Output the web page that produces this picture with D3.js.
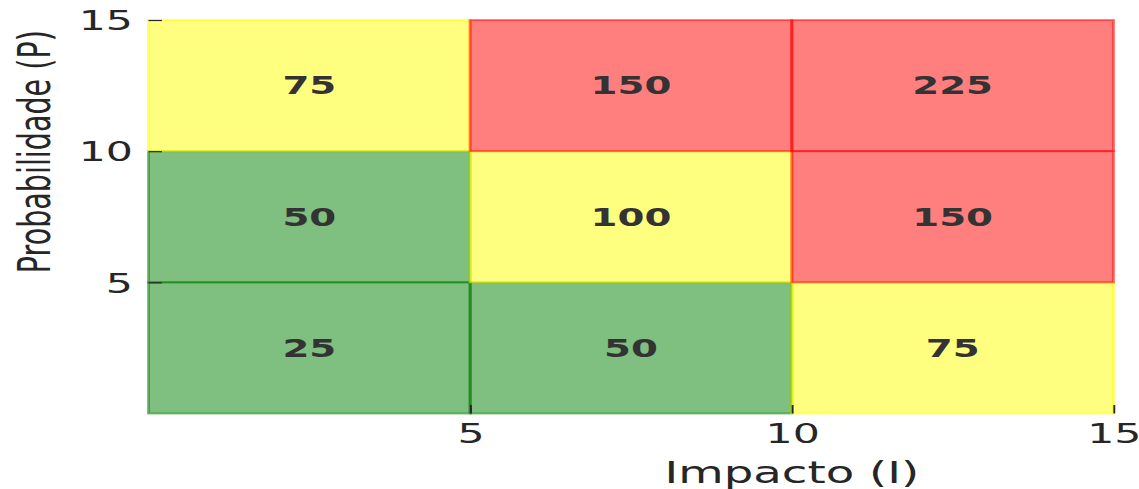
<!DOCTYPE html>
<html>
<head>
<meta charset="utf-8">
<script src="https://cdn.jsdelivr.net/npm/d3@7"></script>
<style>
  body { margin: 0; background: #fff; }
  svg { display: block; }
  text { font-family: "DejaVu Sans", sans-serif; }
</style>
</head>
<body>
<svg id="chart" width="1139" height="489"></svg>
<script>
// niveles de impacto (eje x) y probabilidad (eje y)
var impactLevels = [5, 10, 15];
var probLevels = [5, 10, 15];
// puntuacion de riesgo por celda, filas = probabilidad, columnas = impacto
var riskScores = [
  [25, 50, 75],
  [50, 100, 150],
  [75, 150, 225]
];
var tickValues = [5, 10, 15];
var zoneColors = { low: "green", mid: "yellow", high: "red" };

// the picture is stretched horizontally, so draw in logical units and scale
var stretch = 1.58;
var W = 1139 / stretch, H = 489;
var margin = { left: 148.5 / stretch, right: W - 1113.5 / stretch, top: 20, bottom: H - 413.5 };

var svg = d3.select("#chart");
var root = svg.append("g").attr("transform", "scale(" + stretch + ",1)");

var x = d3.scaleLinear().domain([0, 15]).range([margin.left, W - margin.right]);
var y = d3.scaleLinear().domain([0, 15]).range([H - margin.bottom, margin.top]);

function zone(v) {
  if (v <= 50) return zoneColors.low;
  if (v <= 100) return zoneColors.mid;
  return zoneColors.high;
}

// celdas, recorridas por columna como en el original
var cells = [];
impactLevels.forEach(function(imp, i) {
  probLevels.forEach(function(p, j) {
    cells.push({ imp: imp, p: p, v: riskScores[j][i] });
  });
});

root.selectAll("rect.cell")
  .data(cells)
  .enter().append("rect")
  .attr("class", "cell")
  .attr("x", function(d) { return x(d.imp - 5); })
  .attr("y", function(d) { return y(d.p); })
  .attr("width", function(d) { return x(d.imp) - x(d.imp - 5); })
  .attr("height", function(d) { return y(d.p - 5) - y(d.p); })
  .attr("fill", function(d) { return zone(d.v); })
  .attr("fill-opacity", 0.5)
  .attr("stroke", function(d) { return zone(d.v); })
  .attr("stroke-opacity", 0.5)
  .attr("stroke-width", 1.9);

root.selectAll("text.val")
  .data(cells)
  .enter().append("text")
  .attr("class", "val")
  .attr("x", function(d) { return x(d.imp - 2.5); })
  .attr("y", function(d) { return y(d.p - 2.5); })
  .attr("dy", "0.36em")
  .attr("text-anchor", "middle")
  .attr("font-size", 24.5)
  .attr("font-weight", "bold")
  .attr("fill", "#333333")
  .text(function(d) { return d.v; });

// ejes con ticks hacia dentro
var yAxis = root.append("g")
  .attr("transform", "translate(" + margin.left + ",0)")
  .call(d3.axisLeft(y).tickValues(tickValues).tickSizeInner(-8.5).tickSizeOuter(0).tickPadding(15.5 / stretch));
var xAxis = root.append("g")
  .attr("transform", "translate(0," + (H - margin.bottom) + ")")
  .call(d3.axisBottom(x).tickValues(tickValues).tickSizeInner(-8.5).tickSizeOuter(0).tickPadding(10.3));

[xAxis, yAxis].forEach(function(a) {
  a.select(".domain").remove();
  a.attr("font-family", null).attr("font-size", null);
  a.selectAll(".tick line").attr("stroke", "#262626").attr("stroke-width", 1.2);
  a.selectAll(".tick text").attr("fill", "#262626").attr("font-size", 27);
});
yAxis.selectAll(".tick text").attr("dy", "0.36em");

root.append("text")
  .attr("x", x(10))
  .attr("y", 483.3)
  .attr("text-anchor", "middle")
  .attr("font-size", 29.5)
  .attr("fill", "#262626")
  .text("Impacto (I)");

root.append("text")
  .attr("transform", "translate(" + (50 / stretch) + ",151.7) rotate(-90)")
  .attr("text-anchor", "middle")
  .attr("font-size", 28.6)
  .attr("fill", "#262626")
  .text("Probabilidade (P)");
</script>
</body>
</html>
